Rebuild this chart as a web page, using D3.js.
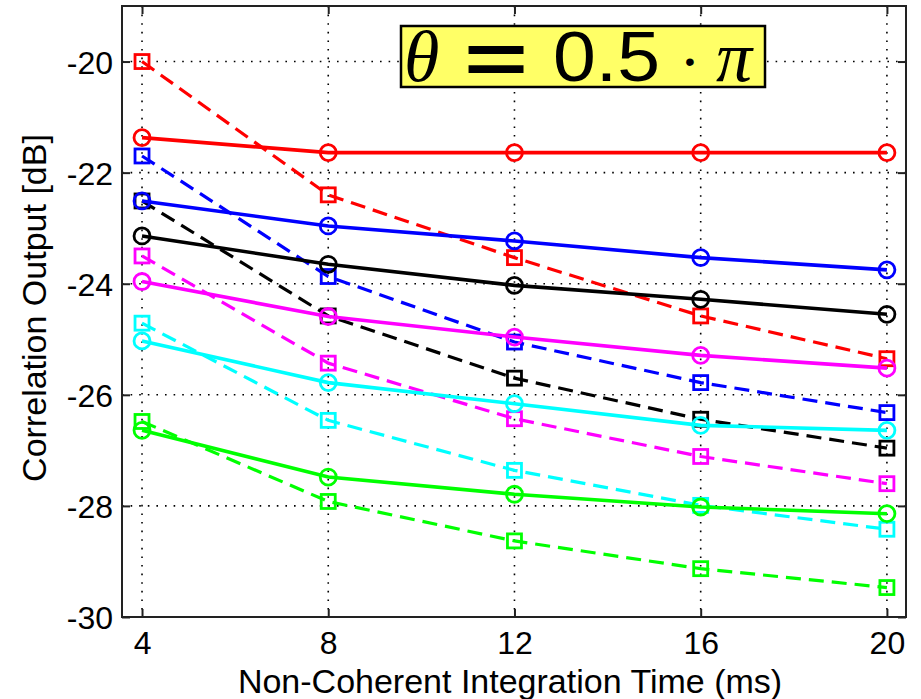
<!DOCTYPE html>
<html>
<head>
<meta charset="utf-8">
<script src="https://cdn.jsdelivr.net/npm/d3@7"></script>
<style>
  body { margin: 0; background: #fff; }
  svg { display: block; }
  .tick text { font-family: Arial, "Liberation Sans", sans-serif; }
</style>
</head>
<body>
<div id="chart"></div>
<script>
"use strict";

// integration times (ms)
var xValues = [4, 8, 12, 16, 20];
var xTicks = [4, 8, 12, 16, 20];
var yTicks = [-30, -28, -26, -24, -22, -20];

// solid lines with circles
var redCircle     = [-21.37, -21.64, -21.64, -21.64, -21.64];
var blueCircle    = [-22.51, -22.96, -23.23, -23.53, -23.75];
var blackCircle   = [-23.14, -23.65, -24.03, -24.28, -24.55];
var magentaCircle = [-23.96, -24.59, -24.96, -25.29, -25.52];
var cyanCircle    = [-25.03, -25.78, -26.16, -26.55, -26.64];
var greenCircle   = [-26.64, -27.48, -27.79, -28.02, -28.14];

// dashed lines with squares
var redSquare     = [-20.00, -22.40, -23.53, -24.58, -25.35];
var blueSquare    = [-21.70, -23.87, -25.05, -25.78, -26.32];
var blackSquare   = [-22.51, -24.58, -25.70, -26.44, -26.96];
var magentaSquare = [-23.50, -25.43, -26.43, -27.11, -27.60];
var cyanSquare    = [-24.71, -26.46, -27.36, -27.99, -28.42];
var greenSquare   = [-26.48, -27.92, -28.63, -29.13, -29.47];

var series = [
    {values: greenSquare,   color: "#00ff00", marker: "square", dashed: true},
    {values: cyanSquare,    color: "#00ffff", marker: "square", dashed: true},
    {values: magentaSquare, color: "#ff00ff", marker: "square", dashed: true},
    {values: blackSquare,   color: "#000000", marker: "square", dashed: true},
    {values: blueSquare,    color: "#0000ff", marker: "square", dashed: true},
    {values: redSquare,     color: "#ff0000", marker: "square", dashed: true},
    {values: greenCircle,   color: "#00ff00", marker: "circle", dashed: false},
    {values: cyanCircle,    color: "#00ffff", marker: "circle", dashed: false},
    {values: magentaCircle, color: "#ff00ff", marker: "circle", dashed: false},
    {values: blackCircle,   color: "#000000", marker: "circle", dashed: false},
    {values: blueCircle,    color: "#0000ff", marker: "circle", dashed: false},
    {values: redCircle,     color: "#ff0000", marker: "circle", dashed: false}
];

var width = 921, height = 699;
var margin = {left: 122, top: 6, right: 15, bottom: 82};
var plotW = width - margin.left - margin.right,
    plotH = height - margin.top - margin.bottom;

var svg = d3.select("#chart").append("svg")
    .attr("width", width)
    .attr("height", height);

var xScale = d3.scaleLinear().domain([3.57, 20.41]).range([0, plotW]);
var yScale = d3.scaleLinear().domain([-30, -19]).range([plotH, 0]);

var g = svg.append("g").attr("transform", "translate(" + margin.left + "," + margin.top + ")");

//Dotted grid
var grid = g.append("g").attr("class", "grid")
    .attr("stroke", "#000")
    .attr("stroke-width", 1.6)
    .attr("stroke-dasharray", "1.6,7")
    .attr("stroke-linecap", "butt");

grid.selectAll("line.v").data(xTicks).enter().append("line")
    .attr("class", "v")
    .attr("x1", function (d) { return xScale(d); })
    .attr("x2", function (d) { return xScale(d); })
    .attr("y1", 0).attr("y2", plotH);

grid.selectAll("line.h").data(yTicks.filter(function (d) { return d !== -30; })).enter().append("line")
    .attr("class", "h")
    .attr("y1", function (d) { return yScale(d); })
    .attr("y2", function (d) { return yScale(d); })
    .attr("x1", 0).attr("x2", plotW);

//Lines and markers
var line = d3.line()
    .x(function (d, i) { return xScale(xValues[i]); })
    .y(function (d) { return yScale(d); });

var seriesG = g.selectAll("g.series").data(series).enter().append("g").attr("class", "series");

seriesG.append("path")
    .attr("d", function (d) { return line(d.values); })
    .attr("fill", "none")
    .attr("stroke", function (d) { return d.color; })
    .attr("stroke-width", function (d) { return d.dashed ? 3.2 : 3.6; })
    .attr("stroke-dasharray", function (d) { return d.dashed ? "15,8" : null; });

seriesG.each(function (s) {
    var sel = d3.select(this).selectAll(".marker").data(s.values).enter();
    if (s.marker === "circle") {
        sel.append("circle")
            .attr("class", "marker")
            .attr("cx", function (d, i) { return xScale(xValues[i]); })
            .attr("cy", function (d) { return yScale(d); })
            .attr("r", 8)
            .attr("fill", "none")
            .attr("stroke", s.color)
            .attr("stroke-width", 2.8);
    } else {
        var side = 14;
        sel.append("rect")
            .attr("class", "marker")
            .attr("x", function (d, i) { return xScale(xValues[i]) - side / 2; })
            .attr("y", function (d) { return yScale(d) - side / 2; })
            .attr("width", side)
            .attr("height", side)
            .attr("fill", "none")
            .attr("stroke", s.color)
            .attr("stroke-width", 2.8);
    }
});

//Axes (MATLAB style: inward ticks on all four sides)
var tickFont = 32;
var plainNum = function (d) { return String(d); }; // hyphen minus, as in the figure
var xAxisB = g.append("g").attr("transform", "translate(0," + plotH + ")")
    .call(d3.axisBottom(xScale).tickValues(xTicks).tickSizeInner(-8).tickSizeOuter(0).tickPadding(14).tickFormat(plainNum));
var xAxisT = g.append("g")
    .call(d3.axisTop(xScale).tickValues(xTicks).tickSizeInner(-8).tickSizeOuter(0).tickFormat(""));
var yAxisL = g.append("g")
    .call(d3.axisLeft(yScale).tickValues(yTicks).tickSizeInner(-8).tickSizeOuter(0).tickPadding(9).tickFormat(plainNum));
var yAxisR = g.append("g").attr("transform", "translate(" + plotW + ",0)")
    .call(d3.axisRight(yScale).tickValues(yTicks).tickSizeInner(-8).tickSizeOuter(0).tickFormat(""));

[xAxisB, xAxisT, yAxisL, yAxisR].forEach(function (ax) {
    ax.select(".domain").remove();
    ax.selectAll(".tick line").attr("stroke", "#222").attr("stroke-width", 2);
    ax.selectAll(".tick text").attr("font-size", tickFont).attr("fill", "#000");
});
yAxisL.selectAll(".tick text").attr("dy", "0.36em");

//Box
g.append("rect")
    .attr("x", 0).attr("y", 0)
    .attr("width", plotW).attr("height", plotH)
    .attr("fill", "none")
    .attr("stroke", "#222")
    .attr("stroke-width", 2);

//Axis labels
svg.append("text")
    .attr("x", 510)
    .attr("y", 693)
    .attr("text-anchor", "middle")
    .attr("font-family", "Arial, 'Liberation Sans', sans-serif")
    .attr("font-size", 34)
    .text("Non-Coherent Integration Time (ms)");

svg.append("text")
    .attr("transform", "translate(46,308) rotate(-90)")
    .attr("text-anchor", "middle")
    .attr("font-family", "Arial, 'Liberation Sans', sans-serif")
    .attr("font-size", 34)
    .text("Correlation Output [dB]");

//Annotation box
svg.append("rect")
    .attr("x", 401).attr("y", 26)
    .attr("width", 364).attr("height", 61)
    .attr("fill", "#ffff66")
    .attr("stroke", "#000")
    .attr("stroke-width", 2.5);

var serif = "'Liberation Serif', 'DejaVu Serif', serif",
    sans = "Arial, 'Liberation Sans', sans-serif";

function annText(x, str, opts) {
    var t = svg.append("text")
        .attr("x", x).attr("y", 81)
        .attr("font-family", opts.family)
        .attr("font-size", opts.size)
        .attr("fill", "#000")
        .text(str);
    if (opts.italic) t.attr("font-style", "italic");
    if (opts.bold) t.attr("font-weight", "bold");
    if (opts.len) t.attr("textLength", opts.len).attr("lengthAdjust", "spacingAndGlyphs");
    if (opts.anchor) t.attr("text-anchor", opts.anchor);
    return t;
}
annText(404, "θ", {family: serif, size: 72, italic: true});
annText(464, "=", {family: sans, size: 72, bold: true, len: 64}).attr("y", 83);
annText(553, "0.5", {family: sans, size: 70, len: 107});
annText(690, "•", {family: sans, size: 28, anchor: "middle"}).attr("y", 71);
annText(716, "π", {family: serif, size: 72, italic: true});
</script>
</body>
</html>
